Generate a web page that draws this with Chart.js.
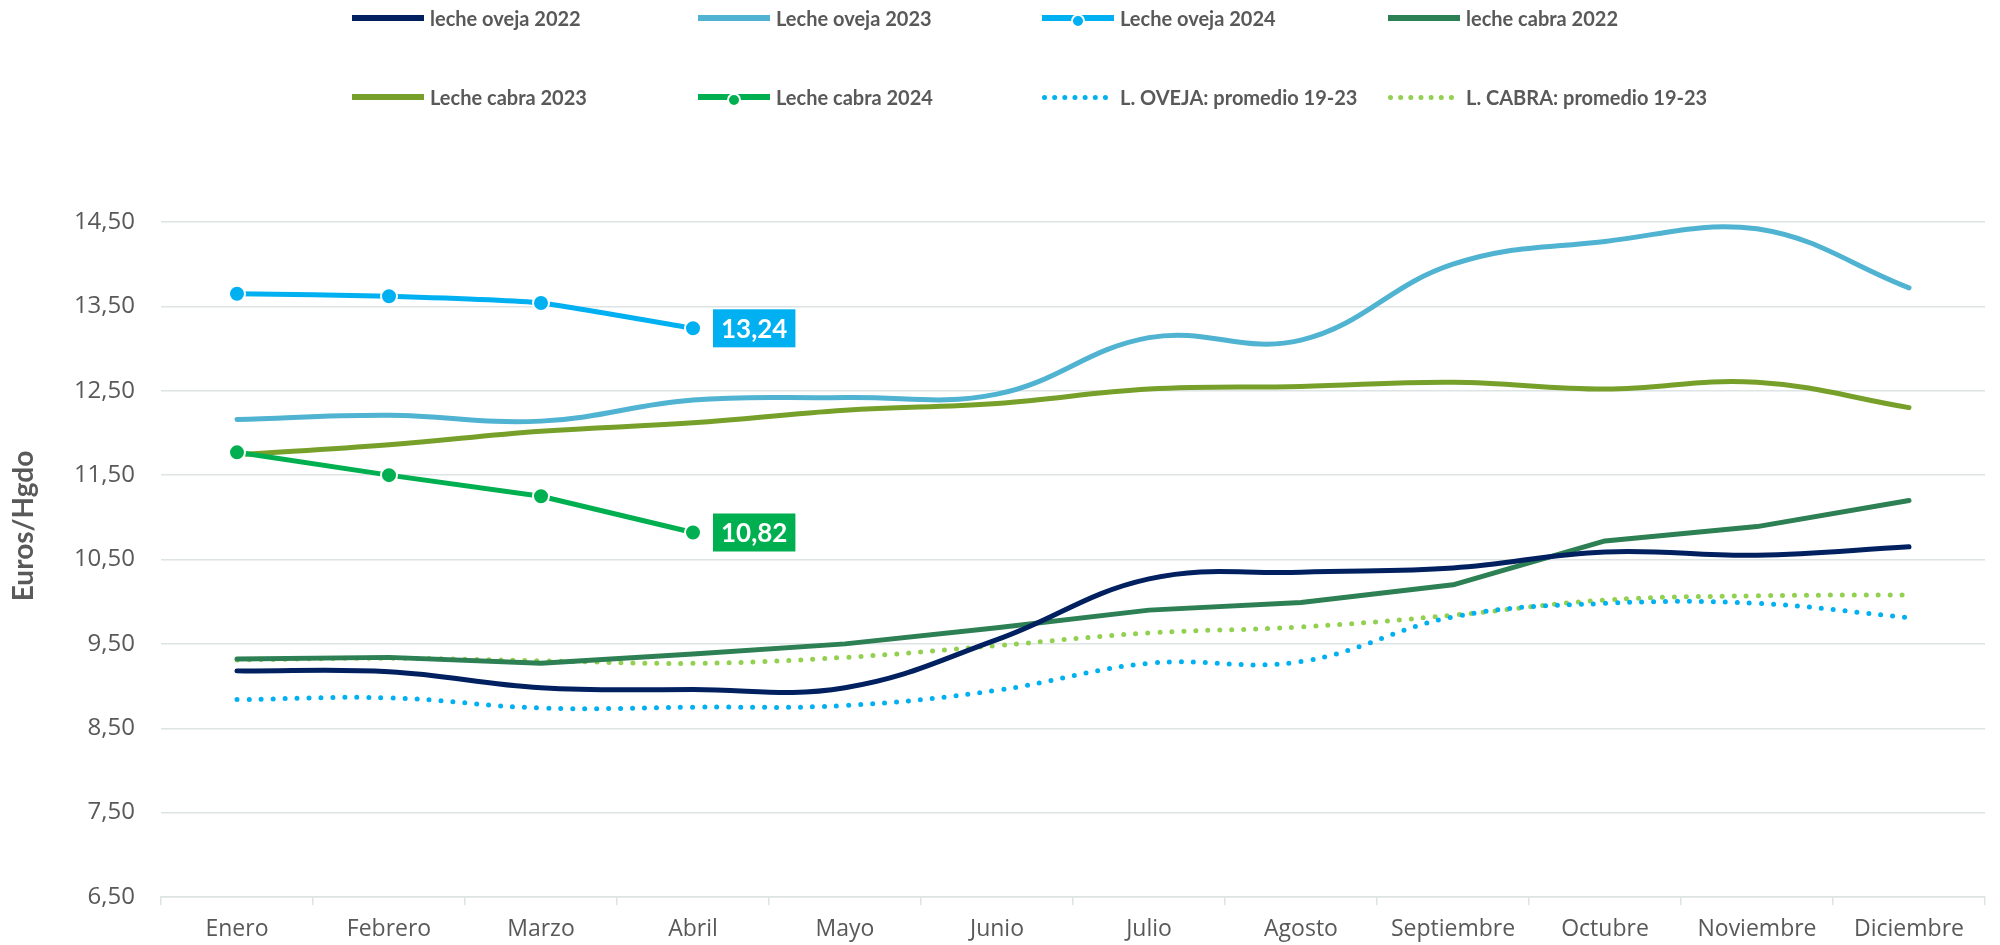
<!DOCTYPE html>
<html>
<head>
<meta charset="utf-8">
<script src="https://cdn.jsdelivr.net/npm/chart.js@4.4.1/dist/chart.umd.min.js"></script>
<style>
  html, body { margin: 0; padding: 0; background: #ffffff; }
  #wrap { position: relative; width: 2000px; height: 945px; overflow: hidden; }
  #chart { position: absolute; left: 0; top: 0; }
  .lg { position: absolute; display: flex; align-items: center; font-family: Lato, "Open Sans", sans-serif; font-weight: 700; font-size: 20px; color: #595959; white-space: nowrap; transform: translateY(-50%); }
  .lg .smp { position: relative; width: 72px; height: 0; margin-right: 6px; }
  .lg .mk { position: absolute; left: 29px; top: -7px; width: 10px; height: 10px; border-radius: 50%; border: 2px solid #fff; }
</style>
</head>
<body>
<div id="wrap">
  <canvas id="chart" width="2000" height="945"></canvas>
  <div id="legend"></div>
</div>
<script>
// ---- data ----
const months = ['Enero', 'Febrero', 'Marzo', 'Abril', 'Mayo', 'Junio', 'Julio', 'Agosto', 'Septiembre', 'Octubre', 'Noviembre', 'Diciembre'];
const yTicks = [6.5, 7.5, 8.5, 9.5, 10.5, 11.5, 12.5, 13.5, 14.5];
const yTitle = 'Euros/Hgdo';
const ovejaLeche2022 = [9.18, 9.17, 8.98, 8.96, 8.98, 9.55, 10.27, 10.35, 10.40, 10.59, 10.55, 10.65];
const ovejaLeche2023 = [12.16, 12.21, 12.14, 12.39, 12.42, 12.46, 13.13, 13.10, 14.00, 14.27, 14.42, 13.72];
const ovejaLeche2024 = [13.65, 13.62, 13.54, 13.24];
const cabraLeche2022 = [9.32, 9.34, 9.27, 9.38, 9.50, 9.69, 9.90, 9.99, 10.20, 10.72, 10.89, 11.20];
const cabraLeche2023 = [11.74, 11.86, 12.02, 12.12, 12.27, 12.35, 12.52, 12.55, 12.60, 12.52, 12.60, 12.30];
const cabraLeche2024 = [11.77, 11.50, 11.25, 10.82];
const ovejaPromedio = [8.84, 8.86, 8.74, 8.75, 8.77, 8.95, 9.27, 9.29, 9.82, 9.98, 9.98, 9.81];
const cabraPromedio = [9.31, 9.33, 9.30, 9.27, 9.34, 9.48, 9.63, 9.70, 9.84, 10.02, 10.07, 10.08];

const fmt = v => v.toFixed(2).replace('.', ',');

const C = {
  oveja22: '#002060', oveja23: '#4FB3D1', oveja24: '#00B0F0',
  cabra22: '#2D7F54', cabra23: '#77A02A', cabra24: '#00B050',
  ovejaP: '#00B0F0', cabraP: '#92D050'
};

function line(label, data, color, opts) {
  return Object.assign({
    label, data, borderColor: color, backgroundColor: color,
    borderWidth: 5, pointRadius: 0, pointHoverRadius: 0,
    tension: 0.4, fill: false, borderCapStyle: 'round', borderJoinStyle: 'round', order: 2
  }, opts || {});
}

const datasets = [
  line('leche oveja 2022', ovejaLeche2022, C.oveja22),
  line('Leche oveja 2023', ovejaLeche2023, C.oveja23),
  line('Leche oveja 2024', ovejaLeche2024, C.oveja24, { tension: 0.15, pointRadius: 8, pointBorderColor: '#ffffff', pointBorderWidth: 2, pointBackgroundColor: C.oveja24, order: 0, endLabel: true, marker: true }),
  line('leche cabra 2022', cabraLeche2022, C.cabra22, { tension: 0 }),
  line('Leche cabra 2023', cabraLeche2023, C.cabra23),
  line('Leche cabra 2024', cabraLeche2024, C.cabra24, { tension: 0, pointRadius: 8, pointBorderColor: '#ffffff', pointBorderWidth: 2, pointBackgroundColor: C.cabra24, order: 0, endLabel: true, marker: true }),
  line('L. OVEJA: promedio 19-23', ovejaPromedio, C.ovejaP, { borderDash: [0, 12], dotted: true, order: 3 }),
  line('L. CABRA: promedio 19-23', cabraPromedio, C.cabraP, { borderDash: [0, 12], dotted: true, order: 3 })
];

const endLabelPlugin = {
  id: 'endLabel',
  afterDatasetsDraw(chart) {
    const ctx = chart.ctx;
    chart.data.datasets.forEach((ds, i) => {
      if (!ds.endLabel) return;
      const meta = chart.getDatasetMeta(i);
      const last = meta.data[meta.data.length - 1];
      const txt = fmt(ds.data[ds.data.length - 1]);
      ctx.save();
      ctx.font = '700 26px Lato, "Open Sans", sans-serif';
      const w = ctx.measureText(txt).width + 16;
      const h = 38;
      const x0 = last.x + 20;
      ctx.fillStyle = ds.borderColor;
      ctx.fillRect(x0, last.y - h / 2, w, h);
      ctx.fillStyle = '#ffffff';
      ctx.textBaseline = 'middle';
      ctx.textAlign = 'left';
      ctx.fillText(txt, x0 + 8, last.y + 1);
      ctx.restore();
    });
  }
};

// y-axis title drawn a little above the axis centre, as in the original
const yTitlePlugin = {
  id: 'yTitle',
  afterDraw(chart) {
    const ctx = chart.ctx;
    ctx.save();
    ctx.translate(24, 526);
    ctx.rotate(-Math.PI / 2);
    ctx.font = '700 28px Lato, sans-serif';
    ctx.fillStyle = '#595959';
    ctx.textAlign = 'center';
    ctx.textBaseline = 'middle';
    ctx.fillText(yTitle, 0, 0);
    ctx.restore();
  }
};

const gridColor = '#DEE4E4';

const chart = new Chart(document.getElementById('chart'), {
  type: 'line',
  data: { labels: months, datasets },
  options: {
    responsive: false,
    animation: false,
    devicePixelRatio: 1,
    layout: { padding: { top: 222, right: 15, left: 0, bottom: 0 } },
    plugins: { legend: { display: false }, tooltip: { enabled: false } },
    scales: {
      x: {
        offset: true,
        grid: { offset: true, drawOnChartArea: false, drawTicks: true, tickLength: 8, color: gridColor, lineWidth: 1.5 },
        border: { display: true, color: gridColor, width: 1.5 },
        ticks: { color: '#595959', font: { family: '"Open Sans", sans-serif', size: 23 }, padding: 11, maxRotation: 0, autoSkip: false },
        afterFit(s) { s.height = 48; }
      },
      y: {
        min: 6.5, max: 14.5,
        afterBuildTicks(s) { s.ticks = yTicks.map(v => ({ value: v })); },
        grid: { drawTicks: false, color: gridColor, lineWidth: 1.5 },
        border: { display: false },
        ticks: { color: '#595959', font: { family: '"Open Sans", sans-serif', size: 24 }, padding: 26, callback: v => fmt(v) },
        afterFit(s) { s.width = 161; }
      }
    }
  },
  plugins: [endLabelPlugin, yTitlePlugin]
});

// ---- HTML legend built from the datasets ----
const legendCols = [352, 698, 1042, 1388];
const legendRows = [18, 97];
const lg = document.getElementById('legend');
datasets.forEach((ds, i) => {
  const d = document.createElement('div');
  d.className = 'lg';
  d.style.left = legendCols[i % 4] + 'px';
  d.style.top = legendRows[Math.floor(i / 4)] + 'px';
  const s = document.createElement('span');
  s.className = 'smp';
  s.style.borderTop = ds.dotted ? ('5px dotted ' + ds.borderColor) : ('6px solid ' + ds.borderColor);
  if (ds.dotted) { s.style.width = '66px'; s.style.marginRight = '12px'; }
  if (ds.marker) {
    const m = document.createElement('span');
    m.className = 'mk';
    m.style.background = ds.borderColor;
    s.appendChild(m);
  }
  d.appendChild(s);
  d.appendChild(document.createTextNode(ds.label));
  lg.appendChild(d);
});
</script>
</body>
</html>
